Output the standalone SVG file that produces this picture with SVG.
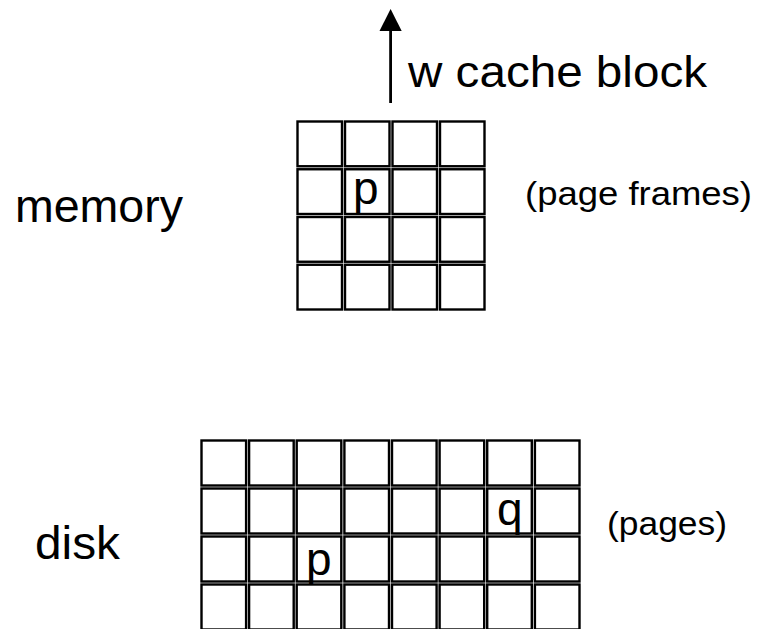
<svg xmlns="http://www.w3.org/2000/svg" width="759" height="629" viewBox="0 0 759 629">
<style>
text{font-family:"Liberation Sans",Arial,sans-serif;fill:#000}
.big{font-size:46px}
.mid{font-size:44px}
.small{font-size:33px}
.cell{fill:#fff;stroke:#000;stroke-width:2.4}
</style>
<rect width="759" height="629" fill="#fff"/>
<g id="memory">
<rect class="cell" x="297.5" y="121.5" width="44.5" height="44.75"/>
<rect class="cell" x="345" y="121.5" width="44.5" height="44.75"/>
<rect class="cell" x="392.5" y="121.5" width="44.5" height="44.75"/>
<rect class="cell" x="440" y="121.5" width="44.5" height="44.75"/>
<rect class="cell" x="297.5" y="169.25" width="44.5" height="44.75"/>
<rect class="cell" x="345" y="169.25" width="44.5" height="44.75"/>
<rect class="cell" x="392.5" y="169.25" width="44.5" height="44.75"/>
<rect class="cell" x="440" y="169.25" width="44.5" height="44.75"/>
<rect class="cell" x="297.5" y="217" width="44.5" height="44.75"/>
<rect class="cell" x="345" y="217" width="44.5" height="44.75"/>
<rect class="cell" x="392.5" y="217" width="44.5" height="44.75"/>
<rect class="cell" x="440" y="217" width="44.5" height="44.75"/>
<rect class="cell" x="297.5" y="264.75" width="44.5" height="44.75"/>
<rect class="cell" x="345" y="264.75" width="44.5" height="44.75"/>
<rect class="cell" x="392.5" y="264.75" width="44.5" height="44.75"/>
<rect class="cell" x="440" y="264.75" width="44.5" height="44.75"/>
<text class="big" x="353" y="204">p</text>
</g>
<g id="disk">
<rect class="cell" x="201.5" y="440.5" width="44.6" height="45"/>
<rect class="cell" x="249.1" y="440.5" width="44.6" height="45"/>
<rect class="cell" x="296.7" y="440.5" width="44.6" height="45"/>
<rect class="cell" x="344.4" y="440.5" width="44.6" height="45"/>
<rect class="cell" x="392" y="440.5" width="44.6" height="45"/>
<rect class="cell" x="439.6" y="440.5" width="44.6" height="45"/>
<rect class="cell" x="487.2" y="440.5" width="44.6" height="45"/>
<rect class="cell" x="534.9" y="440.5" width="44.6" height="45"/>
<rect class="cell" x="201.5" y="488.5" width="44.6" height="45"/>
<rect class="cell" x="249.1" y="488.5" width="44.6" height="45"/>
<rect class="cell" x="296.7" y="488.5" width="44.6" height="45"/>
<rect class="cell" x="344.4" y="488.5" width="44.6" height="45"/>
<rect class="cell" x="392" y="488.5" width="44.6" height="45"/>
<rect class="cell" x="439.6" y="488.5" width="44.6" height="45"/>
<rect class="cell" x="487.2" y="488.5" width="44.6" height="45"/>
<rect class="cell" x="534.9" y="488.5" width="44.6" height="45"/>
<rect class="cell" x="201.5" y="536.5" width="44.6" height="45"/>
<rect class="cell" x="249.1" y="536.5" width="44.6" height="45"/>
<rect class="cell" x="296.7" y="536.5" width="44.6" height="45"/>
<rect class="cell" x="344.4" y="536.5" width="44.6" height="45"/>
<rect class="cell" x="392" y="536.5" width="44.6" height="45"/>
<rect class="cell" x="439.6" y="536.5" width="44.6" height="45"/>
<rect class="cell" x="487.2" y="536.5" width="44.6" height="45"/>
<rect class="cell" x="534.9" y="536.5" width="44.6" height="45"/>
<rect class="cell" x="201.5" y="584.5" width="44.6" height="45"/>
<rect class="cell" x="249.1" y="584.5" width="44.6" height="45"/>
<rect class="cell" x="296.7" y="584.5" width="44.6" height="45"/>
<rect class="cell" x="344.4" y="584.5" width="44.6" height="45"/>
<rect class="cell" x="392" y="584.5" width="44.6" height="45"/>
<rect class="cell" x="439.6" y="584.5" width="44.6" height="45"/>
<rect class="cell" x="487.2" y="584.5" width="44.6" height="45"/>
<rect class="cell" x="534.9" y="584.5" width="44.6" height="45"/>
<text class="big" x="306" y="575">p</text>
<text class="big" x="497" y="525">q</text>
</g>
<g id="labels">
<text class="big" x="15" y="222" textLength="168" lengthAdjust="spacingAndGlyphs">memory</text>
<text class="small" x="525" y="205" textLength="227" lengthAdjust="spacingAndGlyphs">(page frames)</text>
<text class="big" x="35" y="559" textLength="85" lengthAdjust="spacingAndGlyphs">disk</text>
<text class="small" x="607" y="535" textLength="120" lengthAdjust="spacingAndGlyphs">(pages)</text>
<text class="mid" x="408" y="87" textLength="299" lengthAdjust="spacingAndGlyphs">w cache block</text>
</g>
<g id="connectors">
<line x1="390.6" y1="103" x2="390.6" y2="28" stroke="#000" stroke-width="2.8"/>
<polygon points="390.6,9 379.5,31 401.7,31" fill="#000"/>
</g>
</svg>
